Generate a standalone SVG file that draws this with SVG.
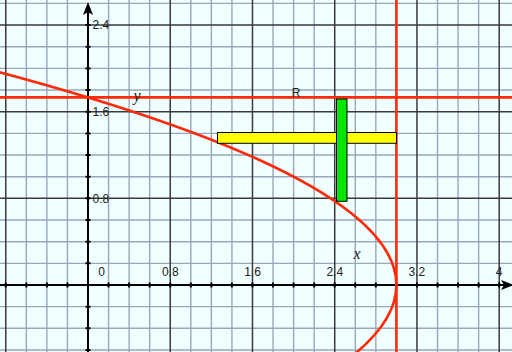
<svg xmlns="http://www.w3.org/2000/svg" width="512" height="352" viewBox="0 0 512 352">
<style>
.minor{stroke:#9ca6ba;stroke-width:1.4;fill:none}
.major{stroke:#3a3a3a;stroke-width:1.5;fill:none}
.axis{stroke:#000;stroke-width:2;fill:none}
.tick{stroke:#000;stroke-width:2;fill:none}
.red{stroke:#ff2a0a;stroke-width:2.6;fill:none}
.num{font-family:"Liberation Sans",Arial,sans-serif;font-size:12px;fill:#222}
.var{font-family:"Liberation Serif","Times New Roman",serif;font-style:italic;font-size:16px;fill:#222}
</style>
<rect width="512" height="352" fill="#f0ffff"/>
<g id="grid">
<path class="minor" d="M26.32 0V352M46.88 0V352M67.44 0V352M108.56 0V352M129.12 0V352M149.68 0V352M190.8 0V352M211.36 0V352M231.92 0V352M273.04 0V352M293.6 0V352M314.16 0V352M355.28 0V352M375.84 0V352M396.4 0V352M437.52 0V352M458.08 0V352M478.64 0V352"/>
<path class="minor" d="M0 349.98H512M0 328.32H512M0 306.66H512M0 263.34H512M0 241.68H512M0 220.02H512M0 176.7H512M0 155.04H512M0 133.38H512M0 90.06H512M0 68.4H512M0 46.74H512M0 3.42H512"/>
<path class="major" d="M5.76 0V352M170.24 0V352M252.48 0V352M334.72 0V352M416.96 0V352M499.2 0V352M0 198.36H512M0 111.72H512M0 25.08H512"/>
</g>
<g id="axes">
<path class="axis" d="M88 8V352M0 285H506"/>
<path class="tick" d="M5.76 282.5v5M26.32 282.5v5M46.88 282.5v5M67.44 282.5v5M108.56 282.5v5M129.12 282.5v5M149.68 282.5v5M170.24 282.5v5M190.8 282.5v5M211.36 282.5v5M231.92 282.5v5M252.48 282.5v5M273.04 282.5v5M293.6 282.5v5M314.16 282.5v5M334.72 282.5v5M355.28 282.5v5M375.84 282.5v5M396.4 282.5v5M416.96 282.5v5M437.52 282.5v5M458.08 282.5v5M478.64 282.5v5M499.2 282.5v5"/>
<path class="tick" d="M85.5 349.98h5M85.5 328.32h5M85.5 306.66h5M85.5 263.34h5M85.5 241.68h5M85.5 220.02h5M85.5 198.36h5M85.5 176.7h5M85.5 155.04h5M85.5 133.38h5M85.5 111.72h5M85.5 90.06h5M85.5 68.4h5M85.5 46.74h5M85.5 25.08h5"/>
<path d="M88 2L83 15L88 12L93 15Z" fill="#000"/>
<path d="M514 285L501 280L504 285L501 290Z" fill="#000"/>
</g>
<g id="labels">
<text class="num" x="101.5" y="276" text-anchor="middle">0</text>
<text class="num" x="170.24" y="276" text-anchor="middle">0.8</text>
<text class="num" x="252.48" y="276" text-anchor="middle">1.6</text>
<text class="num" x="334.72" y="276" text-anchor="middle">2.4</text>
<text class="num" x="416.96" y="276" text-anchor="middle">3.2</text>
<text class="num" x="499.2" y="276" text-anchor="middle">4</text>
<text class="num" x="92.5" y="202.5">0.8</text>
<text class="num" x="92.5" y="116">1.6</text>
<text class="num" x="92.5" y="29.3">2.4</text>
</g>
<g id="lines">
<path class="red" d="M0 97.4H512"/>
<path class="red" d="M396.4 0V352"/>
<path class="red" d="M-2.56 71.65Q528.03 213.52 352.97 355.4"/>
</g>
<g id="yellow-strip">
<rect x="217.5" y="132.5" width="179" height="10.8" fill="#ffff00" stroke="#000" stroke-width="1"/>
</g>
<g id="green-strip">
<rect x="336.5" y="99" width="10.5" height="102.3" fill="#00e600" stroke="#000" stroke-width="1"/>
</g>
<g id="annotations">
<text class="num" x="296" y="96.5" text-anchor="middle">R</text>
<text class="var" x="137" y="101" text-anchor="middle">y</text>
<text class="var" x="357" y="259" text-anchor="middle">x</text>
</g>
</svg>
